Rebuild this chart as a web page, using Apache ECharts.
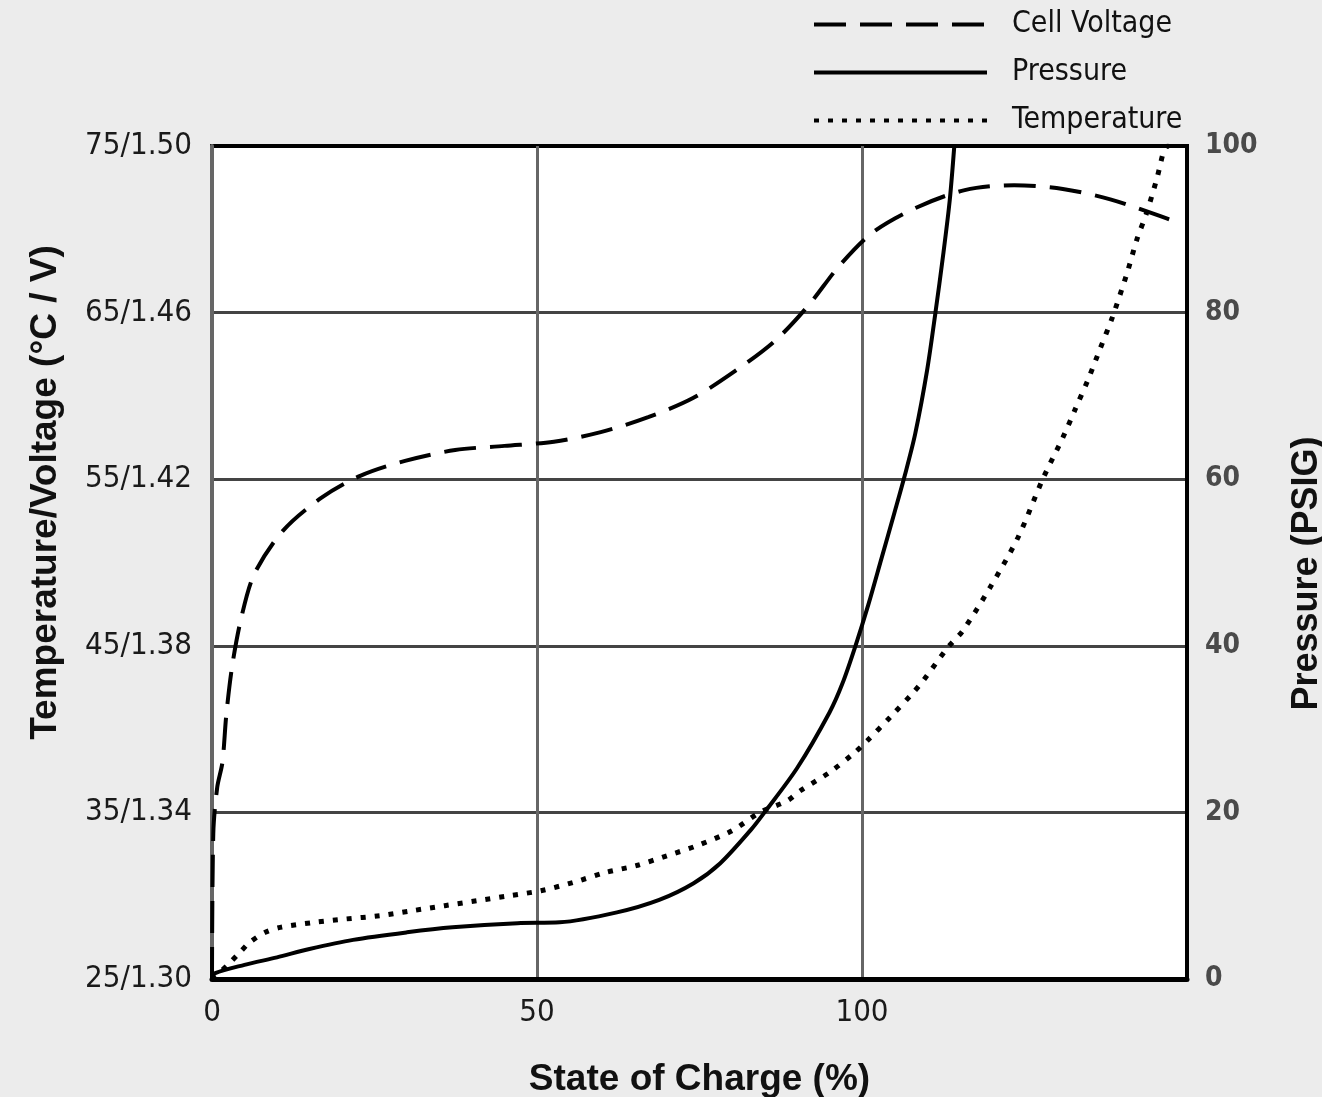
<!DOCTYPE html>
<html>
<head>
<meta charset="utf-8">
<script src="https://cdn.jsdelivr.net/npm/echarts@6/dist/echarts.min.js"></script>
<style>
  html, body { margin: 0; padding: 0; background: #ececec; }
  #chart { width: 1322px; height: 1097px; }
</style>
</head>
<body>
<div id="chart"></div>
<script>
// ---- Data ----
const seriesNames = ['Cell Voltage', 'Pressure', 'Temperature'];

// Cell voltage (V) vs state of charge (%)
const socVoltage = [0, 0.2, 0.8, 1.6, 2.2, 3.1, 4.5, 6.5, 10.9, 16.8, 22.8, 29.7, 37.4, 45, 52.6, 59.8, 67.1, 74, 80.5, 86.6, 91.8, 96.6, 101.7, 108.5, 115.8, 123.4, 130.9, 138.2, 145.8, 148.5];
const cellVoltage = [1.300, 1.335, 1.346, 1.352, 1.3634, 1.3751, 1.3867, 1.3972, 1.4076, 1.4155, 1.4208, 1.4244, 1.4270, 1.4280, 1.4290, 1.4313, 1.4349, 1.4395, 1.4460, 1.4532, 1.4618, 1.4714, 1.4793, 1.4853, 1.4894, 1.4906, 1.4897, 1.4872, 1.4832, 1.4817];

// Pressure (PSIG) vs state of charge (%)
const socPressure = [0, 0.5, 5, 10, 15, 21.7, 30, 37, 47, 53.5, 62.3, 68.8, 74.1, 78.2, 82.9, 85, 90, 95, 97, 99, 101, 103, 105, 106.6, 108.2, 110, 111.3, 112.5, 113.5, 114.2];
const pressure = [0, 0.7, 1.7, 2.6, 3.6, 4.7, 5.6, 6.2, 6.7, 6.8, 8.0, 9.5, 11.5, 13.9, 17.9, 20, 25.3, 32, 35.5, 40, 45, 50.5, 56, 60.5, 65.5, 73, 80, 87, 93.5, 100];

// Temperature (°C) vs state of charge (%)
const socTemp = [0, 2.3, 4.3, 5.8, 8.2, 10.5, 15.8, 20.5, 25.8, 30.8, 35.8, 40.8, 45.8, 50.6, 55.6, 60.6, 65.2, 70, 74.6, 80, 84.3, 88.5, 90.5, 95, 98.9, 100.8, 104.3, 107.9, 109.4, 113.2, 115.5, 119.7, 124, 127.8, 130.9, 132.8, 134.8, 136.6, 138.5, 140.8, 142.3, 143.8, 145.4, 146.6, 147.2];
const temperature = [25, 25.8, 26.6, 27.2, 27.8, 28.1, 28.4, 28.6, 28.8, 29.1, 29.4, 29.7, 30.0, 30.3, 30.8, 31.4, 31.8, 32.4, 33.0, 33.9, 35.0, 35.7, 36.3, 37.4, 38.6, 39.3, 40.7, 42.2, 42.9, 44.9, 45.9, 48.5, 51.5, 55, 57.5, 59.2, 61, 62.8, 64.7, 67.4, 69.4, 71, 73.1, 74.9, 75];

// Tick labels
const xTicks = [0, 50, 100, 150];
const xTickLabels = ['0', '50', '100', ''];
const leftTicks = [25, 35, 45, 55, 65, 75];
const leftTickLabels = ['25/1.30', '35/1.34', '45/1.38', '55/1.42', '65/1.46', '75/1.50'];
const rightTickLabels = ['0', '20', '40', '60', '80', '100'];

const xName = 'State of Charge (%)';
const leftName = 'Temperature/Voltage (°C / V)';
const rightName = 'Pressure (PSIG)';

// ---- Chart ----
const pair = (xs, ys) => xs.map((x, i) => [x, ys[i]]);
const narrow = "'DejaVu Sans Condensed', 'Liberation Sans', sans-serif";
const bold = "'Liberation Sans', Arial, sans-serif";

const chart = echarts.init(document.getElementById('chart'), null, { renderer: 'canvas' });
chart.setOption({
  backgroundColor: '#ececec',
  animation: false,
  grid: {
    left: 212, top: 146, right: 135, bottom: 118,
    outerBoundsMode: 'none', containLabel: false,
    show: true, backgroundColor: '#ffffff', borderColor: '#000000', borderWidth: 4
  },
  legend: {
    orient: 'vertical',
    left: 812, top: 7,
    padding: 0,
    itemWidth: 173, itemHeight: 14, itemGap: 13,
    data: seriesNames,
    itemStyle: { color: 'rgba(0,0,0,0)', borderWidth: 0 },
    lineStyle: { width: 4, color: '#000' },
    textStyle: { fontFamily: narrow, fontSize: 30, lineHeight: 35, color: '#111', padding: [0, 0, 0, 20] }
  },
  xAxis: {
    type: 'value', min: 0, max: 150, interval: 50,
    name: xName, nameLocation: 'middle', nameGap: 82,
    nameTextStyle: { fontFamily: bold, fontWeight: 'bold', fontSize: 37, color: '#111' },
    axisLine: { show: true, onZero: false, lineStyle: { color: '#000', width: 5 } },
    axisTick: { show: false },
    axisLabel: {
      margin: 18, fontFamily: narrow, fontSize: 31, color: '#1a1a1a',
      formatter: v => xTickLabels[xTicks.indexOf(v)] ?? ''
    },
    splitLine: { show: true, lineStyle: { color: ['#666', '#666', '#666', '#000'], width: 3 } }
  },
  yAxis: [
    {
      type: 'value', position: 'left', min: 25, max: 75, interval: 10,
      name: leftName, nameLocation: 'middle', nameGap: 148, nameRotate: 90,
      nameTextStyle: { fontFamily: bold, fontWeight: 'bold', fontSize: 37, color: '#111', padding: [0, 0, 0, 140] },
      axisLine: { show: true, onZero: false, lineStyle: { color: '#666', width: 4 } },
      axisTick: { show: false },
      axisLabel: {
        margin: 20, fontFamily: narrow, fontSize: 31, color: '#1a1a1a',
        formatter: v => leftTickLabels[leftTicks.indexOf(v)] ?? ''
      },
      splitLine: { show: true, lineStyle: { color: ['#000', '#444', '#444', '#444', '#444', '#000'], width: 3 } }
    },
    {
      type: 'value', position: 'right', min: 0, max: 100, interval: 20,
      name: rightName, nameLocation: 'middle', nameGap: 102, nameRotate: 90,
      nameTextStyle: { fontFamily: bold, fontWeight: 'bold', fontSize: 36, color: '#111', padding: [0, 22, 0, 0] },
      axisLine: { show: true, onZero: false, lineStyle: { color: '#000', width: 4 } },
      axisTick: { show: false },
      axisLabel: {
        margin: 18, fontFamily: narrow, fontWeight: 'bold', fontSize: 28, color: '#4a4a4a',
        formatter: v => rightTickLabels[v / 20] ?? ''
      },
      splitLine: { show: false }
    },
    {
      type: 'value', position: 'left', min: 1.30, max: 1.50, show: false,
      splitLine: { show: false }
    }
  ],
  series: [
    {
      name: seriesNames[0], type: 'line', yAxisIndex: 2, symbol: 'none', smooth: 0.3,
      data: pair(socVoltage, cellVoltage),
      itemStyle: { color: '#000' },
      lineStyle: { color: '#000', width: 4, type: [32, 14] }, z: 3
    },
    {
      name: seriesNames[1], type: 'line', yAxisIndex: 1, symbol: 'none', smooth: 0.3,
      data: pair(socPressure, pressure),
      itemStyle: { color: '#000' },
      lineStyle: { color: '#000', width: 4, type: 'solid' }, z: 3
    },
    {
      name: seriesNames[2], type: 'line', yAxisIndex: 0, symbol: 'none', smooth: 0.3,
      data: pair(socTemp, temperature),
      itemStyle: { color: '#000' },
      lineStyle: { color: '#000', width: 5, type: [5, 9] }, z: 3
    }
  ]
});
</script>
</body>
</html>
